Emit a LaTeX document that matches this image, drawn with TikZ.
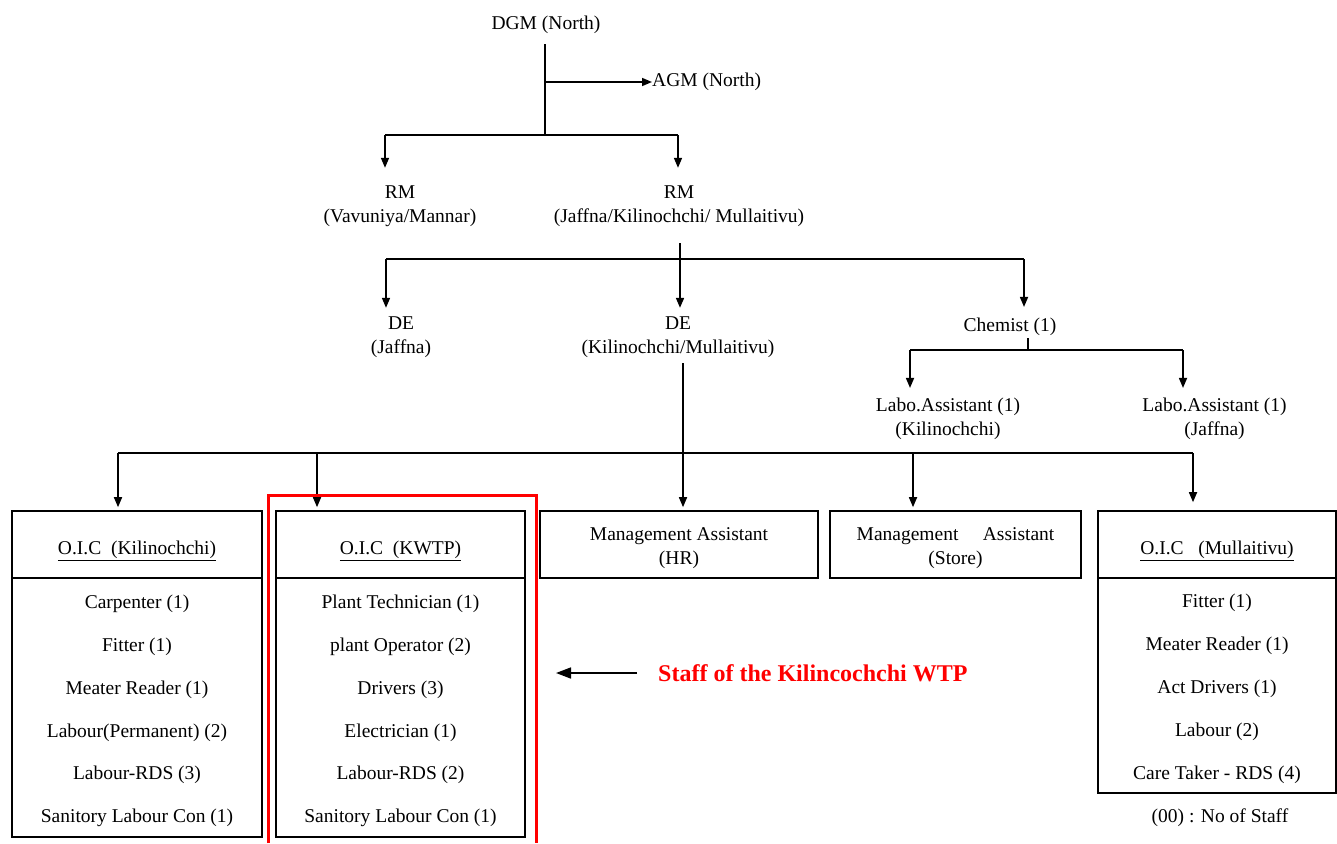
\documentclass[tikz,border=0pt]{standalone}
\usepackage{fontspec}
\setmainfont{Liberation Serif}
\usepackage{tikz}
\usetikzlibrary{arrows.meta,positioning,calc}
\tikzstyle{post}=[inner sep=0pt, yshift=-3pt, align=center, font=\fontsize{19.5}{24}\selectfont]
\tikzstyle{headbox}=[draw, line width=1.6pt, minimum height=67pt, inner sep=0pt]
\tikzstyle{bodybox}=[draw, line width=1.6pt, inner sep=0pt]
\tikzstyle{link}=[line width=1.8pt]
\tikzstyle{drop}=[line width=1.6pt, -{Triangle[length=10pt,width=8pt]}]

\begin{document}
\begin{tikzpicture}[x=1pt,y=-1pt]
\useasboundingbox (0,0) rectangle (1337,843);

% DGM, AGM, RM
\node[post] (dgm) at (546,22) {DGM (North)};
\node[post, anchor=west] (agm) at (652,79) {AGM (North)};
\node[post] (rmv) at (400,203.5) {RM\\(Vavuniya/Mannar)};
\node[post] (rmj) at (679,203.5) {RM\\(Jaffna/Kilinochchi/ Mullaitivu)};

\coordinate (k1) at (545,135);
\coordinate (k1l) at (385,135);
\coordinate (k1r) at (678,135);
\draw[link, shorten <=10pt] (dgm.south -| k1) -- (k1);
\draw[drop] (agm.west -| k1) -- (agm.west);
\draw[link] (k1l) -- (k1r);
\draw[drop, shorten >=18pt] (k1l) -- (k1l |- rmv.north);
\draw[drop, shorten >=18pt] (k1r) -- (k1r |- rmj.north);

% DE, chemist
\node[post] (dej) at (401,334.5) {DE\\(Jaffna)};
\node[post] (dek) at (678,334.5) {DE\\(Kilinochchi/Mullaitivu)};
\node[post] (chem) at (1010,324) {Chemist (1)};
\node[post] (labk) at (948,416) {Labo.Assistant (1)\\(Kilinochchi)};
\node[post] (labj) at (1214.5,416) {Labo.Assistant (1)\\(Jaffna)};

\coordinate (k2) at (680,259);
\coordinate (k2l) at (386,259);
\coordinate (k2r) at (1024,259);
\draw[link, line width=2.4pt] (k2l) -- (k2r);
\draw[drop, shorten <=16pt, shorten >=9pt] (rmj.south -| k2) -- (k2 |- dek.north);
\draw[drop, shorten >=9pt] (k2l) -- (k2l |- dej.north);
\draw[drop, shorten >=11pt] (k2r) -- (k2r |- chem.north);

\coordinate (k3) at (1028,350);
\coordinate (k3l) at (910,350);
\coordinate (k3r) at (1183,350);
\draw[link, shorten <=2pt] (chem.south -| k3) -- (k3);
\draw[link, line width=2.2pt] (k3l) -- (k3r);
\draw[drop, shorten >=10pt] (k3l) -- (k3l |- labk.north);
\draw[drop, shorten >=10pt] (k3r) -- (k3r |- labj.north);

% boites
\node[headbox, minimum width=250pt] (oickh) at (137,544.5) {};
\node[bodybox, minimum width=250pt, minimum height=259pt] (oickb) at (137,707.5) {};
\node[headbox, minimum width=249pt] (oicwh) at (400.5,544.5) {};
\node[bodybox, minimum width=249pt, minimum height=259pt] (oicwb) at (400.5,707.5) {};
\node[headbox, minimum width=278pt] (mahr) at (679,544.5) {};
\node[headbox, minimum width=251pt] (mast) at (955.5,544.5) {};
\node[headbox, minimum width=238pt] (oicmh) at (1217,544.5) {};
\node[bodybox, minimum width=238pt, minimum height=215pt] (oicmb) at (1217,685.5) {};

\node[post, yshift=-3pt] (oickt) at (oickh) {\underline{O.I.C\ \ (Kilinochchi)}};
\node[post, yshift=-3pt] (oicwt) at (oicwh) {\underline{O.I.C\ \ (KWTP)}};
\node[post, yshift=-1pt] (mahrt) at (mahr) {Management Assistant\\(HR)};
\node[post, yshift=-1pt] (mastt) at (mast) {Management\quad\ Assistant\\(Store)};
\node[post, yshift=-3pt] (oicmt) at (oicmh) {\underline{O.I.C\ \ \ (Mullaitivu)}};

\foreach \t [count=\i from 0] in {Carpenter (1), Fitter (1), Meater Reader (1), Labour(Permanent) (2), Labour-RDS (3), Sanitory Labour Con (1)}
  \node[post] (oick-\i) at (137,{601+42.8*\i}) {\t};
\foreach \t [count=\i from 0] in {Plant Technician (1), plant Operator (2), Drivers (3), Electrician (1), Labour-RDS (2), Sanitory Labour Con (1)}
  \node[post] (oicw-\i) at (400.5,{601+42.8*\i}) {\t};
\foreach \t [count=\i from 0] in {Fitter (1), Meater Reader (1), Act Drivers (1), Labour (2), Care Taker - RDS (4)}
  \node[post] (oicm-\i) at (1217,{600+43*\i}) {\t};
\node[post] (note) at (1220,815) {(00) : No of Staff};

\coordinate (k4) at (683,453);
\coordinate (k4l) at (118,453);
\coordinate (k4a) at (317,453);
\coordinate (k4b) at (913,453);
\coordinate (k4r) at (1193,453);
\draw[link, shorten <=5pt] (dek.south -| k4) -- (k4);
\draw[link] (k4l) -- (k4r);
\draw[drop, shorten >=3pt] (k4l) -- (k4l |- oickh.north);
\draw[drop, shorten >=3pt] (k4a) -- (k4a |- oicwh.north);
\draw[drop, shorten >=3pt] (k4) -- (k4 |- mahr.north);
\draw[drop, shorten >=3pt] (k4b) -- (k4b |- mast.north);
\draw[drop, shorten >=8pt] (k4r) -- (k4r |- oicmh.north);

% WTP
\draw[red, line width=3pt] (268,843) |- (536,495) -- (536,843);
\node[anchor=west, inner sep=0pt, text=red, font=\fontsize{24}{28}\selectfont\bfseries] (staff) at (658,673) {Staff of the Kilincochchi WTP};
\coordinate (wtp) at (556,673);
\draw[line width=1.6pt, -{Triangle[length=15pt,width=11pt]}, shorten <=21pt] (staff.west) -- (wtp);

\end{tikzpicture}
\end{document}
